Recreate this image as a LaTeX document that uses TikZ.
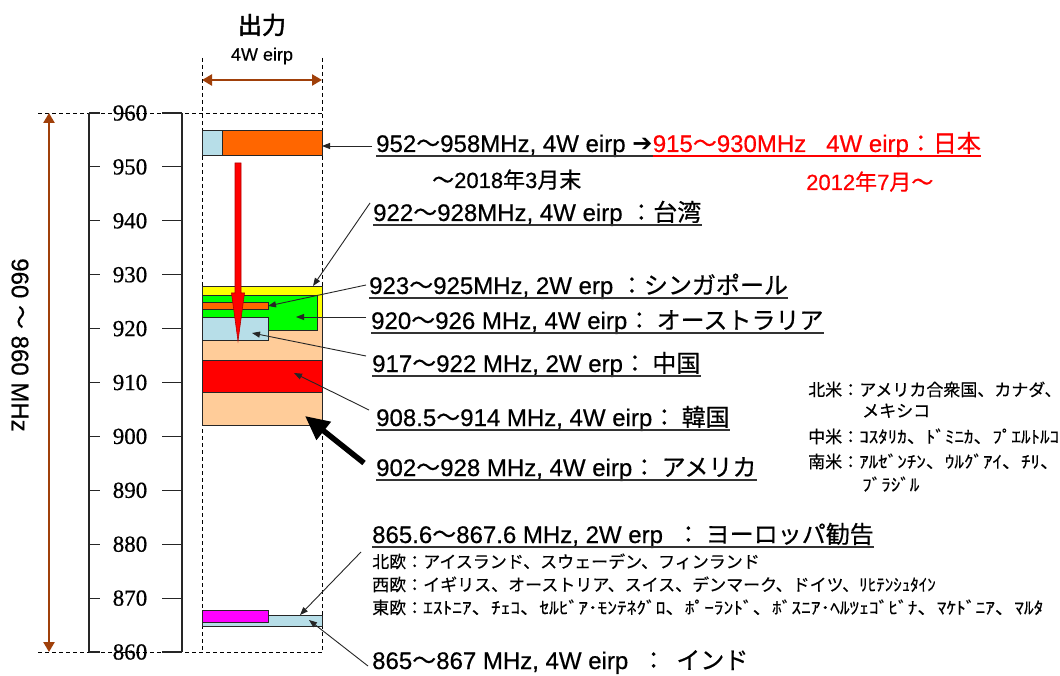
\documentclass[tikz,border=0pt]{standalone}
\usepackage{fontspec}
\setmainfont{Liberation Sans}[FakeBold=0.4]
\newfontfamily\lat[FakeBold=0.5]{Liberation Sans}
\newfontfamily\jp[FakeBold=0.5]{Noto Sans CJK JP}
\newfontfamily\jpb[FakeBold=2]{Noto Sans CJK JP}
\newfontfamily\jpn[FakeBold=0.3]{Noto Sans CJK JP}
\newfontfamily\jph[FakeStretch=1.14,FakeBold=0.3]{Noto Sans CJK JP}
\newfontfamily\jphb[FakeStretch=1.12,FakeBold=0.3]{Noto Sans CJK JP}
\newfontfamily\dv{DejaVu Sans}
\newfontfamily\ser[FakeBold=0.6]{Liberation Serif}
\usetikzlibrary{arrows.meta}
\definecolor{borange}{RGB}{255,102,0}
\definecolor{lblue}{RGB}{183,222,232}
\definecolor{peach}{RGB}{255,204,153}
\definecolor{brn}{RGB}{160,64,10}
\definecolor{grn}{RGB}{0,255,0}
\definecolor{mag}{RGB}{255,0,255}
\definecolor{jred}{RGB}{255,0,0}
\definecolor{yel}{RGB}{255,255,0}
\newcommand{\T}{{\jp ～}}
\tikzset{
  lab/.style={anchor=base west, inner sep=0pt, font=\lat\fontsize{24}{26}\selectfont},
  labs/.style={anchor=base west, inner sep=0pt, font=\lat\fontsize{22}{24}\selectfont},
  note/.style={anchor=base west, inner sep=0pt, font=\jpn\fontsize{17}{19}\selectfont},
  band/.style={draw=black!85, line width=0.9pt},
  dsh/.style={draw=black, dash pattern=on 4pt off 3pt, line width=0.9pt},
  conn/.style={draw=black!85, line width=0.9pt, -{Triangle[length=8pt,width=6pt]}},
  brarrow/.style={draw=brn, line width=2.8pt, {Triangle[length=10pt,width=11pt]}-{Triangle[length=10pt,width=11pt]}},
  ul/.style={line width=1.1pt, black!80}
}
\begin{document}
\begin{tikzpicture}[x=1pt,y=-1pt]
\useasboundingbox (0,0) rectangle (1060,676);
\fill[white] (0,0) rectangle (1060,676);

% header
\node[inner sep=0pt, font=\jpb\fontsize{24}{26}\selectfont] (title) at (262,25) {出力};
\node[inner sep=0pt, font=\lat\fontsize{18}{20}\selectfont] (pw) at (262,56) {4W eirp};
\coordinate (pwl) at (202,80);
\coordinate (pwr) at (322,80);
\draw[brarrow] (pwl) -- (pwr);

% dashed frame
\draw[dsh] (202,58) -- (202,652);
\draw[dsh] (322,58) -- (322,652);
\draw[dsh] (38,113) -- (322,113);
\draw[dsh] (38,652) -- (322,652);

% range arrow and rotated label
\coordinate (rtop) at (49,113);
\coordinate (rbot) at (49,652);
\draw[brarrow] (rtop) -- (rbot);
\node[rotate=-90, inner sep=0pt, font=\lat\fontsize{24}{26}\selectfont] (range) at (20,345) {960 \T\ 860 MHz};

% scale
\draw[line width=1.1pt, black!85] (89,113) -- (89,652);
\draw[line width=1.1pt, black!85] (182,113) -- (182,652);
\foreach \f in {860,870,...,960}{
  \pgfmathsetmacro{\yy}{113+(960-\f)*5.39}
  \draw[line width=1.1pt, black!85] (89,\yy) -- (100,\yy);
  \draw[line width=1.1pt, black!85] (162,\yy) -- (182,\yy);
  \node[inner sep=0pt, font=\ser\fontsize{23}{25}\selectfont] (s\f) at (130,\yy) {\f};
}

% bands
\fill[lblue] (202,130.7) rectangle (222.7,155.3);
\fill[borange] (222.7,130.7) rectangle (322,155.3);
\draw[band] (202,130.7) rectangle (322,155.3);
\draw[band] (222.7,130.7) -- (222.7,155.3);

\filldraw[band, fill=peach] (202,286) rectangle (322,425);
\filldraw[band, fill=yel] (202,286) rectangle (322,317.5);
\filldraw[band, fill=grn] (202,295.5) rectangle (317.5,330.7);
\filldraw[band, fill=borange] (202,302) rectangle (268,309.3);
\filldraw[band, fill=lblue] (202,317.7) rectangle (268,340);
\filldraw[band, fill=jred] (202,360.7) rectangle (322,392.3);

\filldraw[band, fill=lblue] (202,615) rectangle (322,626.5);
\filldraw[band, fill=mag] (202,610) rectangle (268,622.5);

% red move arrow
\filldraw[fill=jred, draw=red!70!black, line width=0.6pt]
  (235,163) -- (241,163) -- (241,293) -- (244.5,293) -- (238,341) -- (231.5,293) -- (235,293) -- cycle;

% labels
\node[lab] (jp1) at (376,152) {952\T 958MHz, 4W eirp {\dv ➔}};
\node[lab, text=jred] (jp2) at (jp1.base east) {915\T 930MHz\ \ \ 4W eirp{\jp ：日本}};
\node[labs] (d1) at (432,188) {\T 2018{\jp 年}3{\jp 月末}};
\node[labs, text=jred] (d2) at (806,190) {2012{\jp 年}7{\jp 月}\T};
\node[lab] (tw) at (373,221) {922\T 928MHz, 4W eirp {\jp ：台湾}};
\node[lab] (sg) at (369,294) {923\T 925MHz, 2W erp {\jp ：シンガポール}};
\node[lab] (au) at (371,329) {920\T 926 MHz, 4W eirp{\jp ：\ オーストラリア}};
\node[lab] (cn) at (372,372) {917\T 922 MHz, 2W erp{\jp ：\ 中国}};
\node[lab] (kr) at (376,426) {908.5\T 914 MHz, 4W eirp{\jp ：\ 韓国}};
\node[lab] (us) at (376,476) {902\T 928 MHz, 4W eirp{\jp ：\ アメリカ}};
\node[lab] (eu) at (372,543) {865.6\T 867.6 MHz, 2W erp\ \ {\jp ：\ ヨーロッパ勧告}};
\node[lab] (in) at (372,669) {865\T 867 MHz, 4W eirp\ \ {\jp ：\ \ インド}};

\foreach \n in {jp1,tw,sg,au,cn,kr,us,eu}{
  \draw[ul] ([yshift=-4pt]\n.base west) -- ([yshift=-4pt]\n.base east);
}
\draw[ul, jred] ([yshift=-4pt]jp2.base west) -- ([yshift=-4pt]jp2.base east);

% notes
\node[note] (na1) at (808,396) {北米：アメリカ合衆国、カナダ、};
\node[note] (na2) at (862,417) {メキシコ};
\node[note] (ca) at (808,443) {中米：{\jphb ｺｽﾀﾘｶ、ﾄﾞﾐﾆｶ、ﾌﾟｴﾙﾄﾙｺ}};
\node[note] (sa1) at (808,468) {南米：{\jphb ｱﾙｾﾞﾝﾁﾝ、ｳﾙｸﾞｱｲ、ﾁﾘ、}};
\node[note] (sa2) at (862,491) {\jphb ﾌﾞﾗｼﾞﾙ};
\node[note] (ne) at (372,568) {北欧：アイスランド、スウェーデン、フィンランド};
\node[note] (we) at (372,591) {西欧：イギリス、オーストリア、スイス、デンマーク、ドイツ、ﾘﾋﾃﾝｼｭﾀｲﾝ};
\node[note] (ee) at (372,614) {東欧：{\jph ｴｽﾄﾆｱ、ﾁｪｺ、ｾﾙﾋﾞｱ･ﾓﾝﾃﾈｸﾞﾛ、ﾎﾟｰﾗﾝﾄﾞ、ﾎﾞｽﾆｱ･ﾍﾙﾂｪｺﾞﾋﾞﾅ、ﾏｹﾄﾞﾆｱ、ﾏﾙﾀ}};

% connectors
\coordinate (cJs) at (372,146);  \coordinate (cJt) at (322,146);
\coordinate (cTs) at (370,203);  \coordinate (cTt) at (313,286);
\coordinate (cSs) at (366,285);  \coordinate (cSt) at (268,306);
\coordinate (cAs) at (366,317);  \coordinate (cAt) at (296,317);
\coordinate (cCs) at (366,356);  \coordinate (cCt) at (252,333);
\coordinate (cKs) at (369,410);  \coordinate (cKt) at (294,373);
\coordinate (cUs) at (364,463);  \coordinate (cUt) at (305,416);
\coordinate (cEs) at (361,552);  \coordinate (cEt) at (300,615);
\coordinate (cIs) at (368,666);  \coordinate (cIt) at (309,620);
\draw[conn] (cJs) -- (cJt);
\draw[conn] (cTs) -- (cTt);
\draw[conn] (cSs) -- (cSt);
\draw[conn] (cAs) -- (cAt);
\draw[conn] (cCs) -- (cCt);
\draw[conn] (cKs) -- (cKt);
\draw[black, line width=5.5pt, -{Triangle[length=24pt,width=22pt]}] (cUs) -- (cUt);
\draw[conn] (cEs) -- (cEt);
\draw[conn] (cIs) -- (cIt);
\end{tikzpicture}
\end{document}
